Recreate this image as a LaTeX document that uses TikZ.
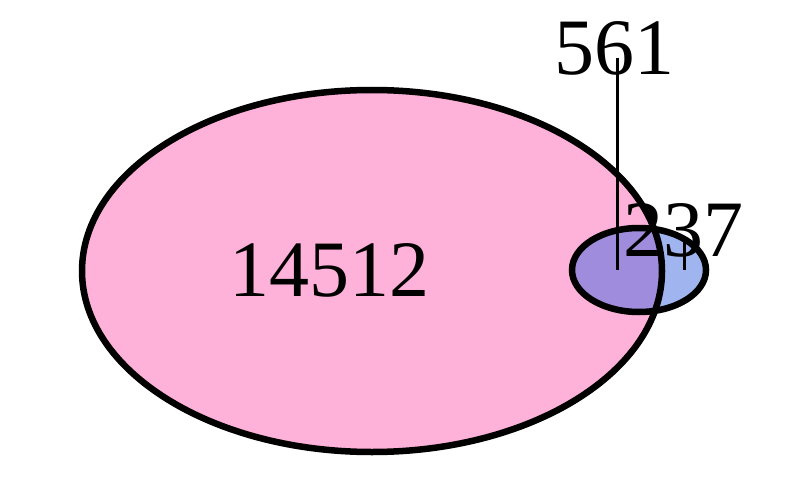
\documentclass[tikz,border=0pt]{standalone}
\usepackage{fontspec}
\setmainfont{Liberation Serif}
\definecolor{bigpink}{RGB}{255,178,217}
\definecolor{smallblue}{RGB}{160,180,240}
\definecolor{overlap}{RGB}{160,140,220}
\tikzset{
  setline/.style={line width=6.5pt, draw=black},
  countlabel/.style={inner sep=0pt, anchor=base, font=\fontsize{80}{96}\selectfont},
  leader/.style={line width=3pt, draw=black}
}
\begin{document}
\begin{tikzpicture}[x=1pt,y=-1pt]
\useasboundingbox (0,0) rectangle (800,500);
% fills
\fill[bigpink] (372,271) ellipse [x radius=290, y radius=181];
\fill[smallblue] (639,270) ellipse [x radius=67, y radius=42];
\begin{scope}
  \clip (372,271) ellipse [x radius=290, y radius=181];
  \fill[overlap] (639,270) ellipse [x radius=67, y radius=42];
\end{scope}
% outlines
\draw[setline] (372,271) ellipse [x radius=290, y radius=181];
\draw[setline] (639,270) ellipse [x radius=67, y radius=42];
% labels
\node[countlabel] (n14512) at (329,296) {14512};
\node[countlabel] (n561) at (614,75) {561};
\node[countlabel] (n237) at (683,256) {237};
% leader lines
\coordinate (t561) at (617,58);
\coordinate (b561) at (617,270);
\coordinate (t237) at (684,236);
\coordinate (b237) at (684,270);
\draw[leader] (t561) -- (b561);
\draw[leader] (t237) -- (b237);
\end{tikzpicture}
\end{document}
